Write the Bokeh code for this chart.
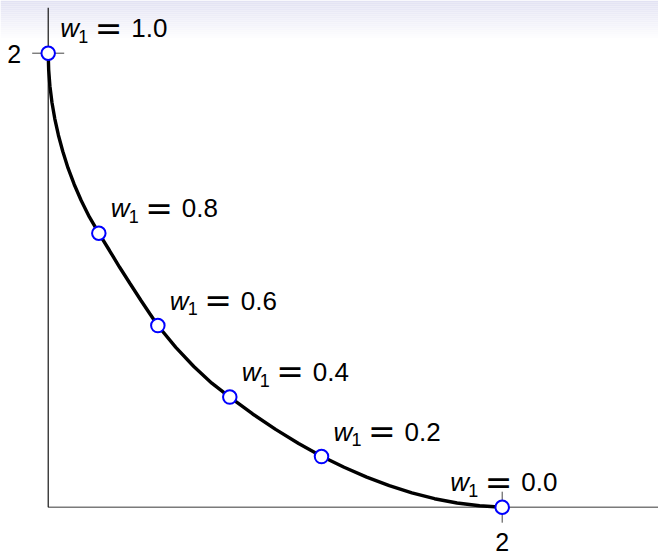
import numpy as np
from bokeh.plotting import figure
from bokeh.models import ColumnDataSource, Range1d
from bokeh.core.properties import value
from bokeh.embed import file_html
from bokeh.resources import INLINE

# Pareto front traced by the weighted-sum method (objective f1 vs f2)
front_f1 = [0.0000, 0.0021, 0.0076, 0.0166, 0.0291, 0.0450, 0.0644, 0.0872, 0.1142,
            0.1453, 0.1813, 0.2229, 0.2700, 0.3154, 0.3604, 0.4088, 0.4471, 0.4828,
            0.5621, 0.6414, 0.7207, 0.8000, 0.9009, 1.0018, 1.1031, 1.2040, 1.3035,
            1.4031, 1.5026, 1.6022, 1.7018, 1.8013, 1.9004, 2.0000]
front_f2 = [2.0000, 1.9267, 1.8548, 1.7828, 1.7110, 1.6388, 1.5670, 1.4947, 1.4229,
            1.3511, 1.2789, 1.2070, 1.1308, 1.0559, 0.9855, 0.9106, 0.8533, 0.8004,
            0.7044, 0.6198, 0.5463, 0.4846, 0.4106, 0.3427, 0.2806, 0.2247, 0.1758,
            0.1326, 0.0947, 0.0630, 0.0374, 0.0185, 0.0062, 0.0000]

# Optima found for each weight w1
weights = [1.0, 0.8, 0.6, 0.4, 0.2, 0.0]
opt_f1 = [0.000, 0.223, 0.483, 0.800, 1.204, 2.000]
opt_f2 = [2.000, 1.207, 0.800, 0.485, 0.223, 0.000]
label_pos = ["above right", "above right", "above right", "above right", "above right", "above"]

tick_values = [2]
tick_labels = ["2"]

# axis extents and pixel scale (227 px per unit, origin at 47.7 / 506.7 px)
W, H = 658, 555
SCALE = 227.0
ORIGIN_X, ORIGIN_Y = 47.7, 506.7
X_AXIS_END, Y_AXIS_END = 2.7, 2.2

x0 = -ORIGIN_X / SCALE
x1 = (W - ORIGIN_X) / SCALE
y0 = (ORIGIN_Y - H) / SCALE
y1 = ORIGIN_Y / SCALE

p = figure(width=W, height=H, output_backend="svg", toolbar_location=None,
           x_range=Range1d(x0, x1), y_range=Range1d(y0, y1),
           min_border=0, x_axis_location=None, y_axis_location=None)
p.grid.visible = False
p.outline_line_color = None
p.background_fill_color = "white"
p.border_fill_color = "white"

# soft header band at the top of the page
n_band = 20
band_px = 2.0
top_rgb = np.array([226, 226, 243])
tops = [y1 - i * band_px / SCALE for i in range(n_band)]
bots = [t - band_px / SCALE for t in tops]
cols = []
for i in range(n_band):
    t = i / (n_band - 1)
    c = top_rgb + (255 - top_rgb) * t
    cols.append("#%02x%02x%02x" % tuple(int(round(v)) for v in c))
p.quad(left=x0, right=x1, top=tops, bottom=bots, fill_color=cols, line_color=None)

# axes
p.segment(x0=[0], y0=[0], x1=[X_AXIS_END], y1=[0], line_color="#7a7a7a", line_width=1.6)
p.segment(x0=[0], y0=[0], x1=[0], y1=[Y_AXIS_END], line_color="black", line_width=1.1)

# tick marks crossing the axes
p.scatter(x=[0] * len(tick_values), y=tick_values, marker="dash", size=32,
          line_color="#444444", line_width=1)
p.scatter(x=tick_values, y=[0] * len(tick_values), marker="dash", size=31, angle=np.pi / 2,
          line_color="#444444", line_width=1)

# baseline correction for the text glyphs (fraction of the font size)
BASE = 0.4

font = value("Liberation Sans")
p.text(x=[0] * len(tick_values), y=tick_values, text=tick_labels, text_font=font,
       text_font_size="25px", text_align="right", text_baseline="alphabetic",
       x_offset=-27, y_offset=10.6 - BASE * 25, text_color="black")
p.text(x=tick_values, y=[0] * len(tick_values), text=tick_labels, text_font=font,
       text_font_size="25px", text_align="center", text_baseline="alphabetic",
       y_offset=45 - BASE * 25, text_color="black")

# the front
p.line(front_f1, front_f2, line_color="black", line_width=3.4)

# weight labels
shift = [0.0 if a == "above right" else -64.0 for a in label_pos]
src = ColumnDataSource(dict(
    x=opt_f1, y=opt_f2,
    w=["w"] * len(weights),
    sub=["1"] * len(weights),
    eq=["="] * len(weights),
    num=[f"{w:.1f}" for w in weights],
    ox_w=[12.0 + s for s in shift],
    ox_sub=[30.0 + s for s in shift],
    ox_eq=[60.3 + s for s in shift],
    ox_num=[83.0 + s for s in shift],
))
base_dy = -14.5
p.text(x="x", y="y", text="w", source=src, text_font=font, text_font_style="italic",
       text_font_size="26px", x_offset="ox_w", y_offset=base_dy - BASE * 26,
       text_align="left", text_baseline="alphabetic", text_color="black")
p.text(x="x", y="y", text="sub", source=src, text_font=font,
       text_font_size="18px", x_offset="ox_sub", y_offset=base_dy + 4.7 - BASE * 18,
       text_align="left", text_baseline="alphabetic", text_color="black")
p.text(x="x", y="y", text="eq", source=src, text_font=value("DejaVu Sans"),
       text_font_size="33px", x_offset="ox_eq", y_offset=base_dy + 2.5 - BASE * 33,
       text_align="center", text_baseline="alphabetic", text_color="black")
p.text(x="x", y="y", text="num", source=src, text_font=font,
       text_font_size="26px", x_offset="ox_num", y_offset=base_dy - BASE * 26,
       text_align="left", text_baseline="alphabetic", text_color="black")

# optimum markers
p.scatter(opt_f1, opt_f2, size=13.5, marker="circle", fill_color="white",
          line_color="#0000ff", line_width=2)

open("out.html", "w").write(file_html(p, INLINE))
